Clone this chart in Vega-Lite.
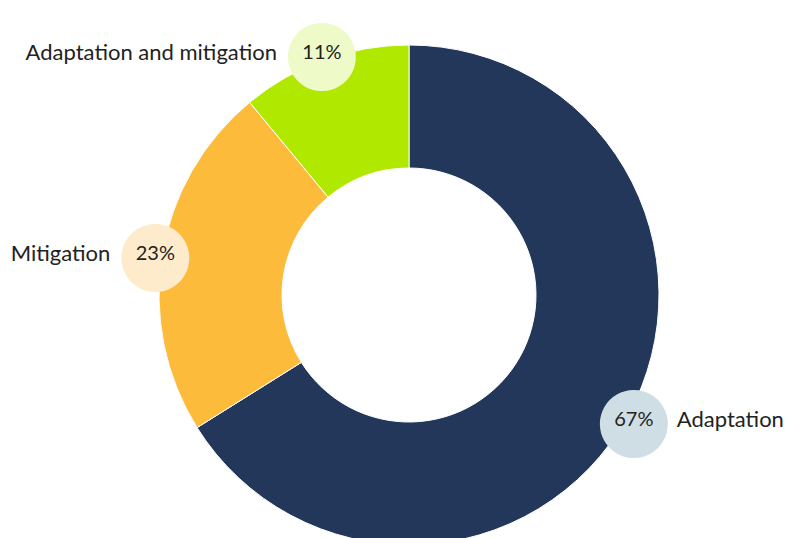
{
  "$schema": "https://vega.github.io/schema/vega-lite/v6.json",
  "autosize": "none",
  "padding": {"left": 11, "top": 52, "right": 0, "bottom": 0},
  "width": 796,
  "height": 486,
  "background": "white",
  "data": {
    "values": [
      {"category": "Adaptation", "share": 66.1, "label": "67%", "rank": 1},
      {"category": "Mitigation", "share": 22.9, "label": "23%", "rank": 2},
      {"category": "Adaptation and mitigation", "share": 11.0, "label": "11%", "rank": 3}
    ]
  },
  "encoding": {
    "theta": {"field": "share", "type": "quantitative", "stack": true},
    "order": {"field": "rank", "type": "quantitative"}
  },
  "layer": [
    {
      "mark": {"type": "arc", "radius": 250, "radius2": 127, "stroke": "white", "strokeWidth": 1},
      "encoding": {
        "color": {
          "field": "category",
          "type": "nominal",
          "scale": {
            "domain": ["Adaptation", "Mitigation", "Adaptation and mitigation"],
            "range": ["#22375a", "#fdbb3b", "#b0e800"]
          },
          "legend": null
        }
      }
    },
    {
      "mark": {"type": "text", "radius": 257, "font": "DejaVu Sans", "fontSize": 89, "baseline": "middle", "text": "●"},
      "encoding": {
        "color": {
          "field": "category",
          "type": "nominal",
          "scale": {
            "domain": ["Adaptation", "Mitigation", "Adaptation and mitigation"],
            "range": ["#cfdee5", "#fdebcb", "#eefbc8"]
          },
          "legend": null
        }
      }
    },
    {
      "mark": {"type": "text", "radius": 257, "font": "Lato", "fontSize": 20, "baseline": "middle", "color": "#222222"},
      "encoding": {"text": {"field": "label"}}
    },
    {
      "mark": {"type": "text", "radius": 257, "align": "left", "dx": 43, "font": "Lato", "fontSize": 22, "baseline": "middle", "color": "#222222"},
      "encoding": {
        "text": {"condition": {"test": "datum.category == 'Adaptation'", "field": "category"}, "value": ""}
      }
    },
    {
      "mark": {"type": "text", "radius": 257, "align": "right", "dx": -45, "font": "Lato", "fontSize": 22, "baseline": "middle", "color": "#222222"},
      "encoding": {
        "text": {"condition": {"test": "datum.category != 'Adaptation'", "field": "category"}, "value": ""}
      }
    }
  ],
  "resolve": {"scale": {"color": "independent"}},
  "config": {"view": {"stroke": null}}
}
